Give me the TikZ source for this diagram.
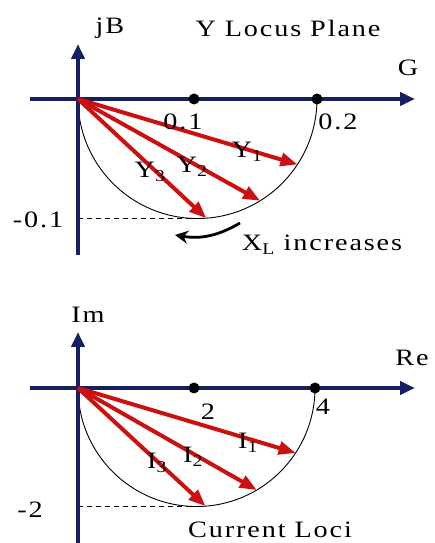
\documentclass[tikz,border=0pt]{standalone}
\usepackage{fontspec}
\setmainfont{Liberation Serif}[FakeStretch=1.2,LetterSpace=8]
\usetikzlibrary{arrows.meta}
\definecolor{axisnavy}{RGB}{22,32,96}
\definecolor{phasorred}{RGB}{204,16,16}
\begin{document}
\begin{tikzpicture}[x=1pt,y=1pt,line join=round,font=\fontsize{23.5}{26}\selectfont,
	axis/.style={axisnavy,line width=4pt,-{Triangle[length=15pt,width=13pt]}},
	phasor/.style={phasorred,line width=4pt,-{Triangle[length=17pt,width=13pt]}},
	locus/.style={black,line width=0.9pt},
	guide/.style={black,line width=0.8pt,dash pattern=on 5pt off 4pt},
	trend/.style={black,line width=2.8pt,-{Stealth[length=13pt,width=13pt]}},
	dot/.style={circle,fill=black,inner sep=0pt,minimum size=11pt}]
	\useasboundingbox (0,0) rectangle (435,543);
	% admittance plane
	\begin{scope}[shift={(78,444)}]
		\coordinate (O1) at (0,0);
		\draw[locus] (O1) arc (180:360:119.5);
		\draw[guide] (0,-119.5) -- (119.5,-119.5);
		\draw[axis] (-48,0) -- (337,0);
		\draw[axis] (0,-156) -- (0,55);
		\foreach \ang/\k in {16.6/1,29.2/2,42.9/3}
		\coordinate (Y\k) at (-\ang:{239*cos(\ang)});
		\foreach \k in {1,2,3}
		\draw[phasor] (O1) -- (Y\k);
		\node[dot] (g1) at (116,0) {};
		\node[dot] (g2) at (239,0) {};
		\foreach \x/\y/\nm/\lbl in {105/-23/t1/0.1,260/-23/t2/0.2,-40/-121/tb/-0.1,32/71/jb/jB,210/71/title/Y Locus Plane,330/31/gg/G}
		\node (\nm) at (\x,\y) {\lbl};
		\foreach \x/\y/\k in {169/-53/1,114/-68/2,72/-73/3}
		\node (y\k) at (\x,\y) {Y\textsubscript{\k}};
		\coordinate (xa) at (162,-124);
		\coordinate (xb) at (97,-136);
		\draw[trend] (xa) to[bend left=20] (xb);
		\node (xl) at (244,-146) {X\textsubscript{L} increases};
	\end{scope}
	% current plane
	\begin{scope}[shift={(78,155)}]
		\coordinate (O2) at (0,0);
		\draw[locus] (O2) arc (180:360:118.5);
		\draw[guide] (0,-118.5) -- (118.5,-118.5);
		\draw[axis] (-48,0) -- (337,0);
		\draw[axis] (0,-160) -- (0,56);
		\foreach \ang/\k in {16.6/1,29.7/2,42.8/3}
		\coordinate (I\k) at (-\ang:{237*cos(\ang)});
		\foreach \k in {1,2,3}
		\draw[phasor] (O2) -- (I\k);
		\node[dot] (r1) at (116,0) {};
		\node[dot] (r2) at (237,0) {};
		\foreach \x/\y/\nm/\lbl in {130/-24/s1/2,245/-19/s2/4,-48/-122/sb/-2,10/73/im/Im,334/30/re/Re,192/-142/cl/Current Loci}
		\node (\nm) at (\x,\y) {\lbl};
		\foreach \x/\y/\k in {170/-55/1,115/-69/2,79/-75/3}
		\node (i\k) at (\x,\y) {I\textsubscript{\k}};
	\end{scope}
\end{tikzpicture}
\end{document}
